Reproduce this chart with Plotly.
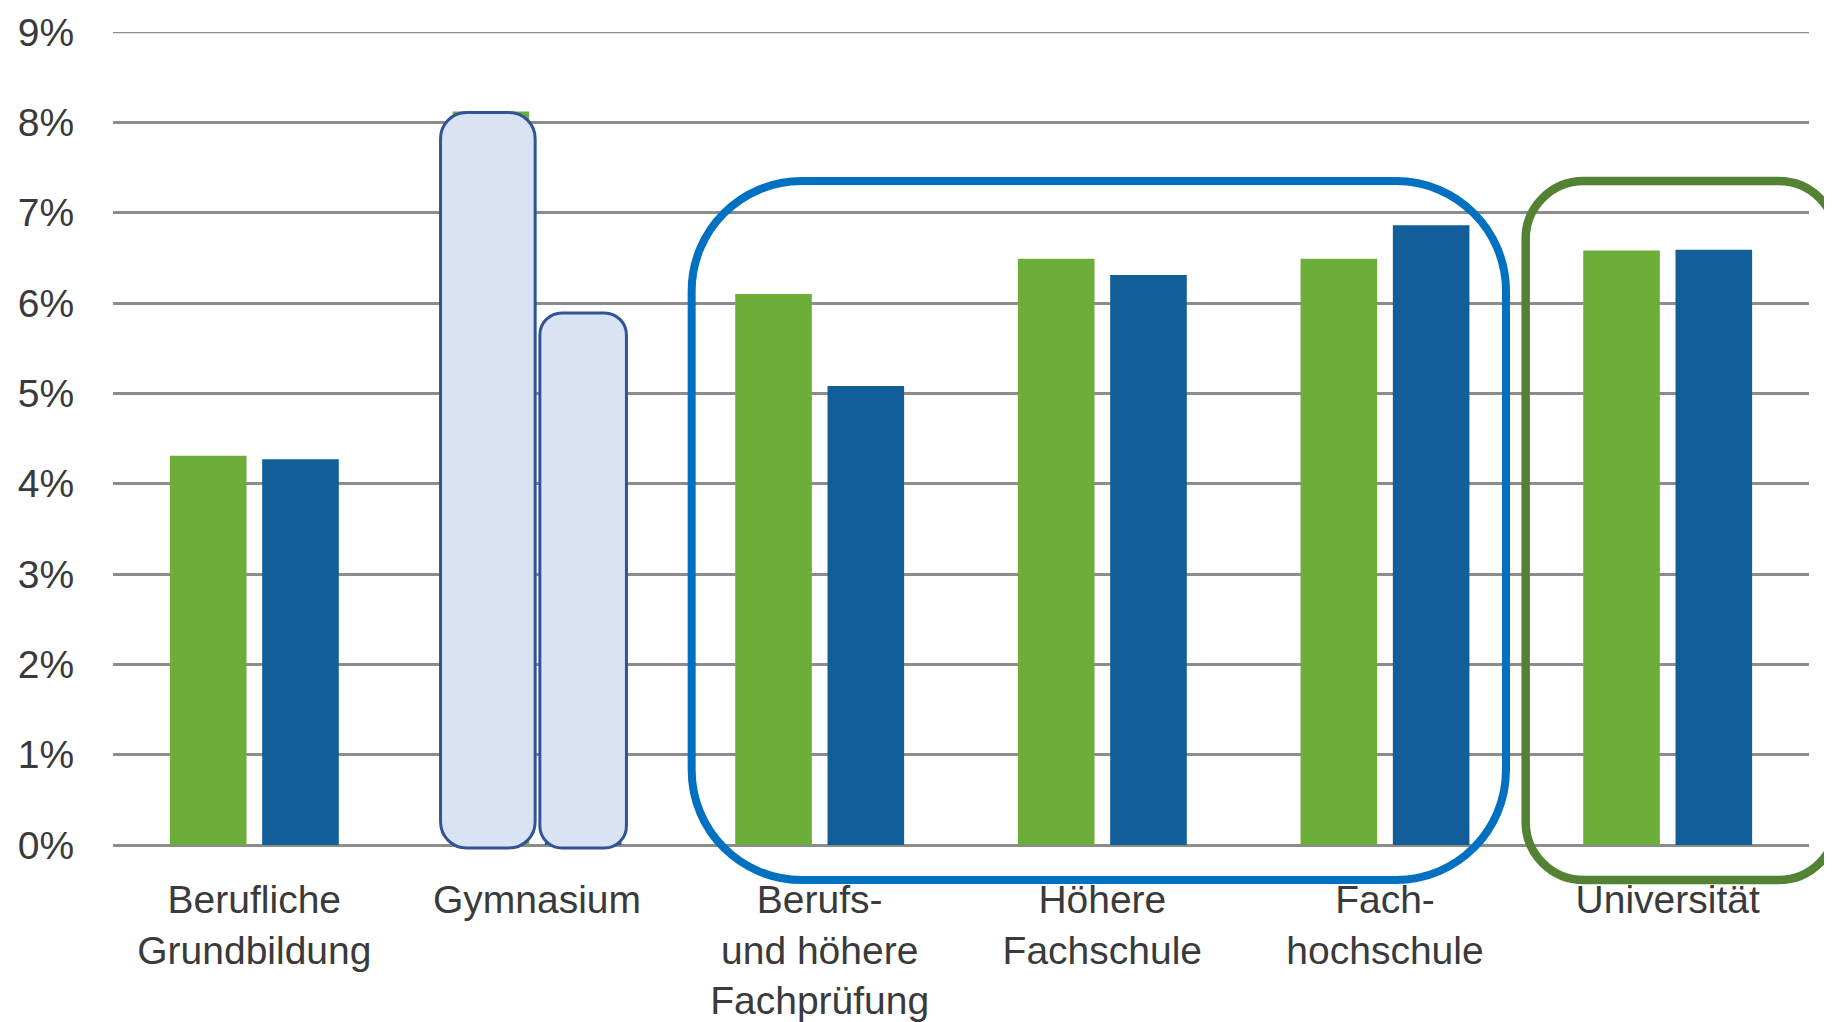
import plotly.graph_objects as go

# data
categories = ["Berufliche<br>Grundbildung", "Gymnasium", "Berufs-<br>und höhere<br>Fachprüfung",
              "Höhere<br>Fachschule", "Fach-<br>hochschule", "Universität"]
green_values = [4.31, 8.12, 6.10, 6.49, 6.49, 6.58]
blue_values = [4.27, 5.78, 5.08, 6.31, 6.86, 6.59]
y_ticks = [0, 1, 2, 3, 4, 5, 6, 7, 8, 9]
y_tick_labels = [f"{t}%" for t in y_ticks]

W, H = 1832, 1022
# the page body adds an 8px offset, margins are corrected for it
M = dict(l=105, r=31, t=24, b=185)
X_RANGE = [-0.5, 5.5]
Y_RANGE = [0, 9]
BARGAP = 0.347
GROUPGAP = 0.17
PW = W - M["l"] - M["r"]
PH = H - M["t"] - M["b"]

GREEN = "#6DAD3A"
BLUE = "#115E99"
GRID = "#8c8c8c"
TEXT = "#3a3a3a"
FONT = "Liberation Sans, Arial, sans-serif"


def px_x(v):
    return M["l"] + (v - X_RANGE[0]) / (X_RANGE[1] - X_RANGE[0]) * PW


def px_y(v):
    return M["t"] + (Y_RANGE[1] - v) / (Y_RANGE[1] - Y_RANGE[0]) * PH


def to_paper(x, y):
    return (x - M["l"]) / PW, (H - M["b"] - y) / PH


def rounded_path(x0, y0, x1, y1, r):
    # rounded rectangle in pixel coords -> svg path in paper coords
    k = 0.5523 * r
    pts = [
        ("M", [(x0 + r, y0)]),
        ("L", [(x1 - r, y0)]),
        ("C", [(x1 - r + k, y0), (x1, y0 + r - k), (x1, y0 + r)]),
        ("L", [(x1, y1 - r)]),
        ("C", [(x1, y1 - r + k), (x1 - r + k, y1), (x1 - r, y1)]),
        ("L", [(x0 + r, y1)]),
        ("C", [(x0 + r - k, y1), (x0, y1 - r + k), (x0, y1 - r)]),
        ("L", [(x0, y0 + r)]),
        ("C", [(x0, y0 + r - k), (x0 + r - k, y0), (x0 + r, y0)]),
    ]
    out = []
    for cmd, ps in pts:
        coords = " ".join("%.5f,%.5f" % to_paper(px, py) for px, py in ps)
        out.append(cmd + " " + coords)
    return " ".join(out) + " Z"


x = list(range(len(categories)))

fig = go.Figure()
fig.add_trace(go.Bar(x=x, y=green_values, marker=dict(color=GREEN, line_width=0), name="green"))
fig.add_trace(go.Bar(x=x, y=blue_values, marker=dict(color=BLUE, line_width=0), name="blue"))

# geometry of one bar slot
slot = (1 - BARGAP) / 2
half_bar = (px_x(slot * (1 - GROUPGAP)) - px_x(0)) / 2
base = px_y(0)

shapes = []
# top gridline (plotly drops the one on the plot edge)
shapes.append(dict(type="line", xref="paper", yref="y", x0=0, x1=1, y0=Y_RANGE[1], y1=Y_RANGE[1],
                   line=dict(color=GRID, width=2.5), layer="below"))
# Gymnasium: bars covered with light boxes
g_cx = px_x(1 - slot / 2)
b_cx = px_x(1 + slot / 2)
shapes.append(dict(type="path", xref="paper", yref="paper",
                   path=rounded_path(g_cx - half_bar - 12, px_y(green_values[1]) + 1, g_cx + half_bar + 6, base + 3, 26),
                   line=dict(color="#2F5597", width=3), fillcolor="#DAE3F3", layer="above"))
shapes.append(dict(type="path", xref="paper", yref="paper",
                   path=rounded_path(b_cx - half_bar - 5, px_y(blue_values[1]) - 10, b_cx + half_bar + 5, base + 3, 22),
                   line=dict(color="#2F5597", width=3), fillcolor="#DAE3F3", layer="above"))
# highlight frames
shapes.append(dict(type="path", xref="paper", yref="paper",
                   path=rounded_path(px_x(2) - 128, px_y(7.35), px_x(4) + 121, base + 35, 110),
                   line=dict(color="#0070C0", width=8), layer="above"))
shapes.append(dict(type="path", xref="paper", yref="paper",
                   path=rounded_path(px_x(5) - 142, px_y(7.35), px_x(5) + 169, base + 35, 58),
                   line=dict(color="#548235", width=8.5), layer="above"))

fig.update_layout(
    width=W, height=H,
    margin=M,
    barmode="group", bargap=BARGAP, bargroupgap=GROUPGAP,
    plot_bgcolor="white", paper_bgcolor="white",
    showlegend=False,
    font=dict(family=FONT, color=TEXT),
    shapes=shapes,
    xaxis=dict(range=X_RANGE, tickvals=x, ticktext=categories, showgrid=False, zeroline=False,
               showline=False, ticks="outside", ticklen=20, tickcolor="rgba(0,0,0,0)",
               automargin=False, tickfont=dict(size=39, color=TEXT, family=FONT)),
    yaxis=dict(range=Y_RANGE, tickvals=y_ticks, ticktext=y_tick_labels, showgrid=True,
               gridcolor=GRID, gridwidth=2.5, zeroline=True, zerolinecolor=GRID,
               zerolinewidth=2.5, showline=False, ticks="outside", ticklen=30,
               tickcolor="rgba(0,0,0,0)", automargin=False,
               tickfont=dict(size=39, color=TEXT, family=FONT)),
)

fig.write_html("out.html")
